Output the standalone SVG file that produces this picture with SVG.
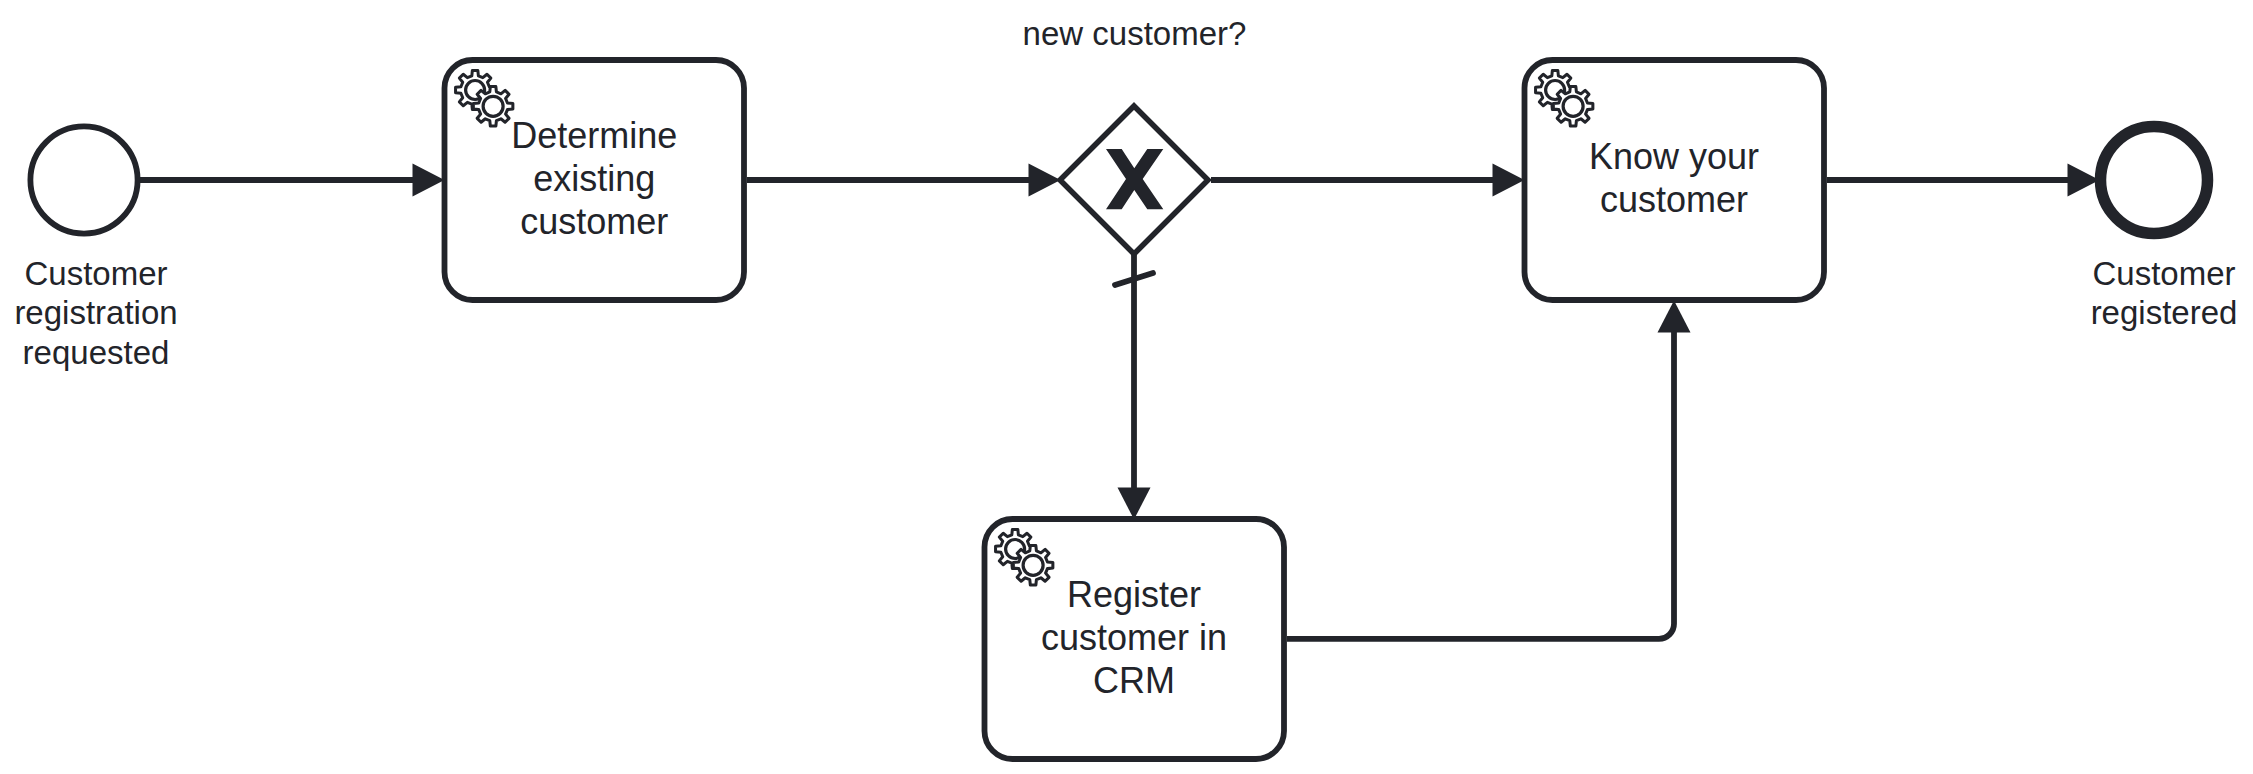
<svg xmlns="http://www.w3.org/2000/svg" xmlns:xlink="http://www.w3.org/1999/xlink" width="2253" height="774" viewBox="0 0 2253 774">
<style>
.task{fill:#fff;stroke:#22242a;stroke-width:5.8}
.evt{fill:#fff;stroke:#22242a}
.flow{fill:none;stroke:#22242a;stroke-width:5.8;marker-end:url(#arrow)}
.gear{fill:#fff;stroke:#22242a;stroke-width:3.2;stroke-linejoin:round}
text{font-family:"Liberation Sans",Arial,sans-serif;fill:#22242a;text-anchor:middle}
.t{font-size:36px}
.l{font-size:33px}
</style>
<defs>
<marker id="arrow" markerUnits="userSpaceOnUse" markerWidth="36" markerHeight="35" refX="20" refY="17" orient="auto" viewBox="0 0 36 35"><path d="M0.5,0.5L32.5,17L0.5,33.5Z" fill="#22242a"/></marker>
<path id="gearShape" d="M15.1,-3.5L20.8,-2.9L20.8,2.9L15.1,3.5L13.15,8.2L16.76,12.66L12.66,16.76L8.2,13.15L3.5,15.1L2.9,20.8L-2.9,20.8L-3.5,15.1L-8.2,13.15L-12.66,16.76L-16.76,12.66L-13.15,8.2L-15.1,3.5L-20.8,2.9L-20.8,-2.9L-15.1,-3.5L-13.15,-8.2L-16.76,-12.66L-12.66,-16.76L-8.2,-13.15L-3.5,-15.1L-2.9,-20.8L2.9,-20.8L3.5,-15.1L8.2,-13.15L12.66,-16.76L16.76,-12.66L13.15,-8.2Z"/>
<g id="gears">
<use xlink:href="#gearShape" href="#gearShape" class="gear" transform="translate(30.6,30) scale(.94)"/>
<circle cx="30.6" cy="30" r="9.5" class="gear"/>
<use xlink:href="#gearShape" href="#gearShape" class="gear" transform="translate(48.6,46.3) scale(.95)"/>
<circle cx="48.6" cy="46.3" r="10" class="gear"/>
</g>
</defs>
<rect width="2253" height="774" fill="#fff"/>
<g id="connectors">
<path class="flow" d="M137,180H432"/>
<path class="flow" d="M747,180H1048"/>
<path class="flow" d="M1211,180H1512"/>
<path class="flow" d="M1827,180H2087"/>
<path class="flow" d="M1134,255V507"/>
<path class="flow" d="M1287,638.8H1659A15,15 0 0 0 1674,623.8V313"/>
<path d="M1115,285L1153,273" fill="none" stroke="#22242a" stroke-width="5.8" stroke-linecap="round"/>
</g>
<g id="start">
<circle class="evt" cx="84" cy="180" r="53.6" stroke-width="5.8"/>
<text class="l" x="96" y="285">Customer</text>
<text class="l" x="96" y="324.3">registration</text>
<text class="l" x="96" y="363.5">requested</text>
</g>
<g id="task-determine">
<rect class="task" x="444.5" y="60" width="299.5" height="240" rx="28"/>
<use xlink:href="#gears" href="#gears" transform="translate(444.5,60)"/>
<text class="t" x="594.3" y="148">Determine</text>
<text class="t" x="594.3" y="191">existing</text>
<text class="t" x="594.3" y="234">customer</text>
</g>
<g id="gateway">
<path d="M1134,106L1208,180L1134,254L1060,180Z" fill="#fff" stroke="#22242a" stroke-width="5.5" stroke-linejoin="miter"/>
<path d="M1106,149H1121.7L1134.3,168.3L1147.3,149H1163.3L1142.7,179L1163.3,209.3H1147.3L1134.3,190L1121.7,209.3H1106L1126,179Z" fill="#22242a"/>
<text class="l" x="1134.5" y="45">new customer?</text>
</g>
<g id="task-know">
<rect class="task" x="1524.5" y="60" width="299.5" height="240" rx="28"/>
<use xlink:href="#gears" href="#gears" transform="translate(1524.5,60)"/>
<text class="t" x="1674" y="168.5">Know your</text>
<text class="t" x="1674" y="211.5">customer</text>
</g>
<g id="task-register">
<rect class="task" x="984.5" y="519" width="299.5" height="240" rx="28"/>
<use xlink:href="#gears" href="#gears" transform="translate(984.5,519)"/>
<text class="t" x="1134" y="606.7">Register</text>
<text class="t" x="1134" y="649.5">customer in</text>
<text class="t" x="1134" y="692.7">CRM</text>
</g>
<g id="end">
<circle class="evt" cx="2154" cy="180" r="53.5" stroke-width="11.5"/>
<text class="l" x="2164" y="285">Customer</text>
<text class="l" x="2164" y="324">registered</text>
</g>
</svg>
